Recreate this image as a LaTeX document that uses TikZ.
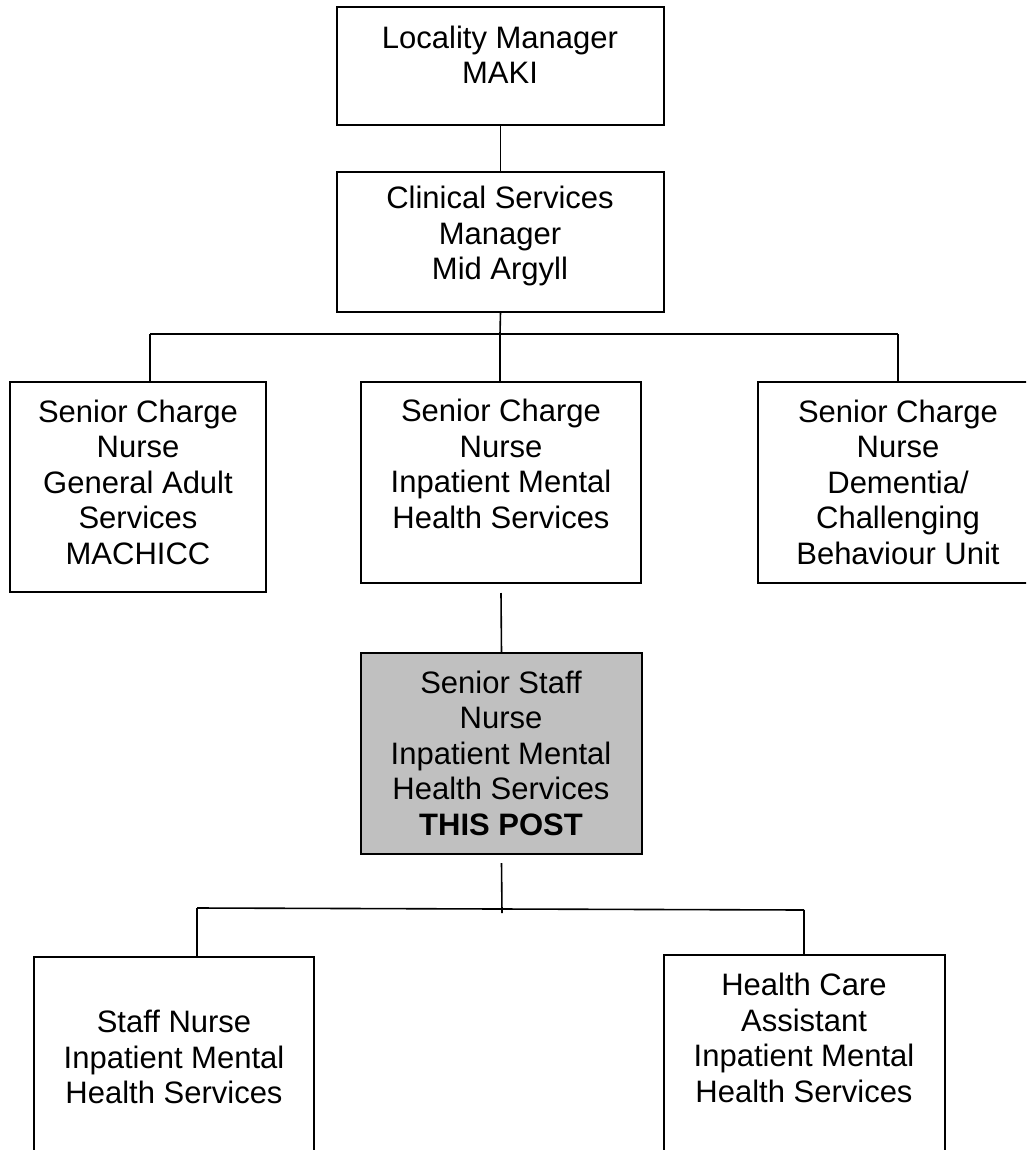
\documentclass[tikz,border=0pt]{standalone}
\usepackage{fontspec}
\setmainfont{Liberation Sans}
\begin{document}
\begin{tikzpicture}[x=1pt,y=-1pt,
  box/.style={draw, line width=1.6pt, inner sep=0pt, outer sep=0pt, anchor=north west},
  txt/.style={align=center, inner sep=0pt, font=\fontsize{31}{35.5}\selectfont},
  conn/.style={line width=1.6pt}]
\useasboundingbox (0,0) rectangle (1026,1150);
\clip (0,0) rectangle (1026,1150);
% boxes
\node[box, minimum width=327pt, minimum height=118pt] (b1) at (337,7) {};
\node[box, minimum width=327pt, minimum height=140pt] (b2) at (337,172) {};
\node[box, minimum width=256pt, minimum height=210pt] (b3) at (10,382) {};
\node[box, minimum width=280pt, minimum height=201pt] (b4) at (361,382) {};
\node[box, minimum width=280pt, minimum height=201pt] (b5) at (758,382) {};
\node[box, fill={rgb,255:red,192;green,192;blue,192}, minimum width=281pt, minimum height=201pt] (b6) at (361,653) {};
\node[box, minimum width=280pt, minimum height=230pt] (b7) at (34,957) {};
\node[box, minimum width=281pt, minimum height=230pt] (b8) at (664,955) {};
% texts
\node[txt] (t1) at (500,55) {Locality Manager\\MAKI};
\node[txt] (t2) at (500,236) {Clinical Services\\Manager\\Mid Argyll};
\node[txt] (t3) at (138,482) {Senior Charge\\Nurse\\General Adult\\Services\\MACHICC};
\node[txt] (t4) at (501,464) {Senior Charge\\Nurse\\Inpatient Mental\\Health Services};
\node[txt] (t5) at (898,482) {Senior Charge\\Nurse\\Dementia/\\Challenging\\Behaviour Unit};
\node[txt] (t6) at (501,753) {Senior Staff\\Nurse\\Inpatient Mental\\Health Services\\\textbf{THIS POST}};
\node[txt] (t7) at (174,1057) {Staff Nurse\\Inpatient Mental\\Health Services};
\node[txt] (t8) at (804,1038) {Health Care\\Assistant\\Inpatient Mental\\Health Services};
% connectors
\coordinate (j1) at (500,334);
\coordinate (h1) at (150,334);
\coordinate (h2) at (898,334);
\draw[conn] (b1.south) -- (b2.north);
\draw[conn] (b2.south) -- (j1);
\draw[conn] (h1) -- (h2);
\draw[conn] (h1) -- (h1 |- b3.north);
\draw[conn] (j1) -- (j1 |- b4.north);
\draw[conn] (h2) -- (h2 |- b5.north);
\draw[conn] ([yshift=-10pt]b4.south) -- (b6.north);
\coordinate (j2) at (502,913);
\draw[conn] ([yshift=-9pt]b6.south) -- (j2);
\coordinate (h3) at (197,908);
\coordinate (h4) at (804,910);
\draw[conn] (h3) -- (h4);
\draw[conn] (h3) -- (h3 |- b7.north);
\draw[conn] (h4) -- (h4 |- b8.north);
\end{tikzpicture}
\end{document}
